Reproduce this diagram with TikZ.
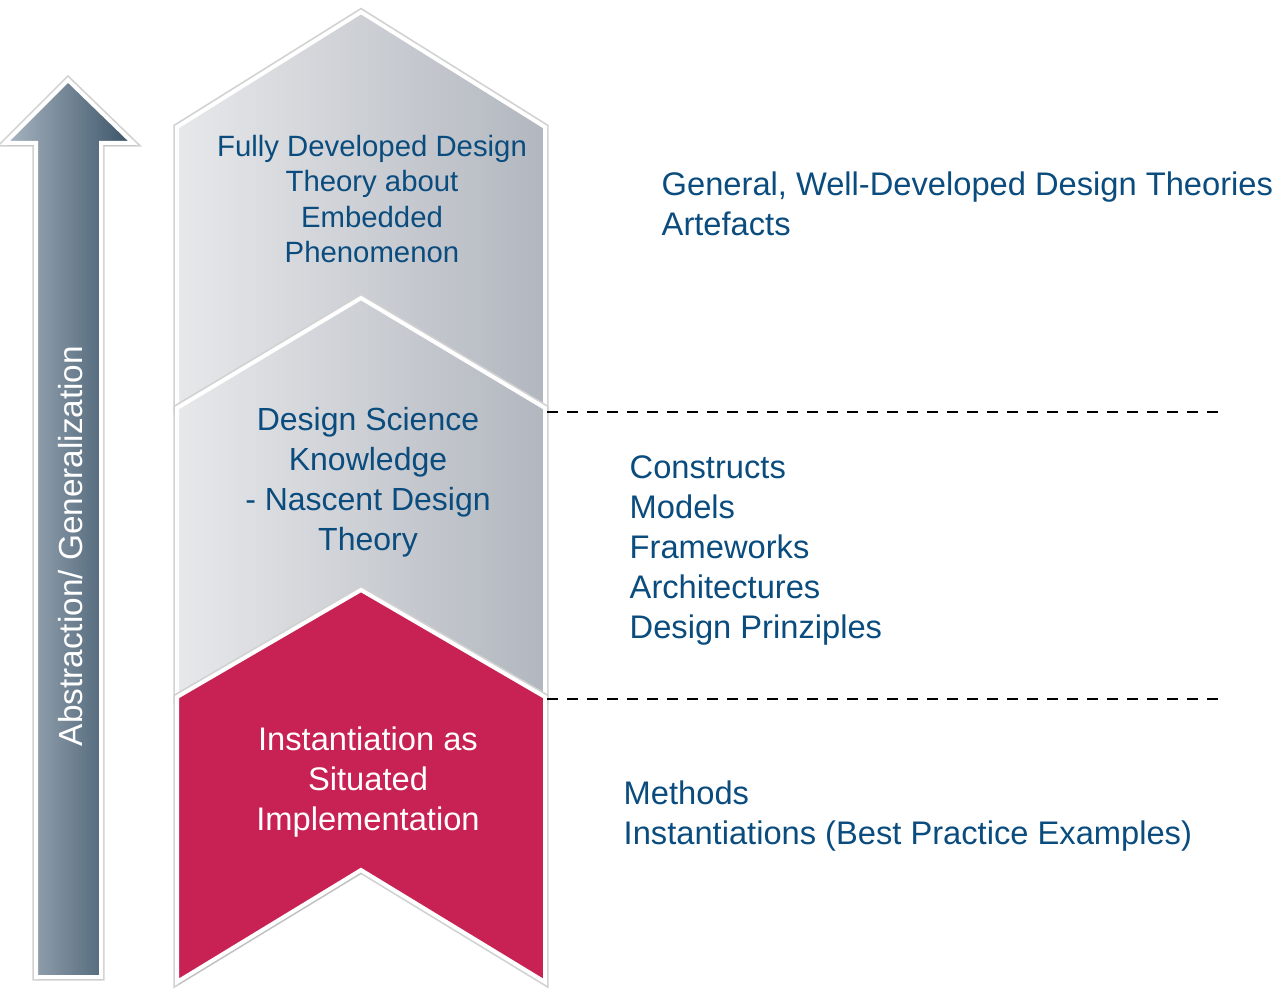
\documentclass[tikz,border=0pt]{standalone}
\usepackage{fontspec}
\setmainfont{Liberation Sans}
\usetikzlibrary{shadows}
\definecolor{txtblue}{HTML}{0B4C7E}
\definecolor{chevlight}{HTML}{E7E8EA}
\definecolor{chevdark}{HTML}{B2B7BF}
\definecolor{instred}{HTML}{C72253}
\definecolor{arrlight}{HTML}{A9B5C1}
\definecolor{arrdark}{HTML}{3A5367}

\begin{document}
\begin{tikzpicture}[x=0.75pt, y=-0.75pt,
  chevron/.style={draw=white, line width=3pt, line join=miter,
    preaction={draw=black!18, line width=5.5pt},
    drop shadow={opacity=0.2, shadow xshift=1.5pt, shadow yshift=-2pt}},
  boxtext/.style={align=center, text=txtblue},
  sidetext/.style={align=left, anchor=west, text=txtblue, font=\fontsize{24.5}{30}\selectfont},
  level/.style={line width=1.5pt, dash pattern=on 8pt off 7pt}]
\useasboundingbox (0,0) rectangle (1280,988);

% abstraction arrow
\shadedraw[chevron, left color=arrlight, right color=arrdark]
  (68,80) -- (133,143) -- (101,143) -- (101,977) -- (36,977) -- (36,143) -- (5,143) -- cycle;
\node[rotate=90, text=white, font=\fontsize{25}{30}\selectfont] (axislabel) at (71,546) {Abstraction/ Generalization};

% grey chevrons: top apex / top shoulder / bottom apex / bottom side
\foreach \ta/\ts/\ba/\bs in {12/127/298/408, 298/408/590/697}
  \shadedraw[chevron, left color=chevlight, right color=chevdark]
    (177,\ts) -- (361,\ta) -- (545,\ts) -- (545,\bs) -- (361,\ba) -- (177,\bs) -- cycle;

% red chevron
\filldraw[chevron, fill=instred]
  (177,697) -- (361,590) -- (545,697) -- (545,982) -- (361,870) -- (177,982) -- cycle;

\node[boxtext, font=\fontsize{22}{26.3}\selectfont] (fulltheory) at (372,199)
  {Fully Developed Design\\Theory about\\Embedded\\Phenomenon};
\node[boxtext, font=\fontsize{24}{30}\selectfont] (nascent) at (368,482)
  {Design Science\\Knowledge\\- Nascent Design\\Theory};
\node[boxtext, text=white, font=\fontsize{24.5}{30}\selectfont] (instant) at (368,782)
  {Instantiation as\\Situated\\Implementation};

% levels
\draw[level] (547,412) -- (1225,412);
\draw[level] (547,699) -- (1225,699);

\node[sidetext] (general) at (657,204) {General, Well-Developed Design Theories\\Artefacts};
\node[sidetext] (constructs) at (625,550) {Constructs\\Models\\Frameworks\\Architectures\\Design Prinziples};
\node[sidetext] (methods) at (619,816) {Methods\\Instantiations (Best Practice Examples)};
\end{tikzpicture}
\end{document}
